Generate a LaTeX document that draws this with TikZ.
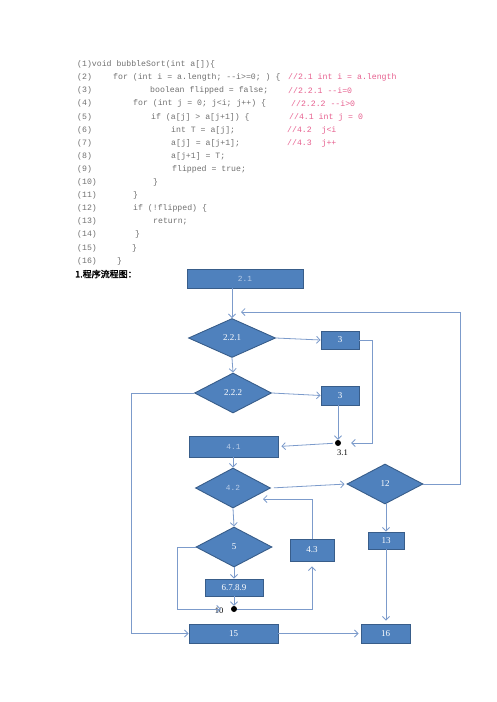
\documentclass[tikz,border=0pt]{standalone}
\usepackage{fontspec}
\setmainfont{Liberation Serif}
\setmonofont{Liberation Mono}
\newfontfamily\cjkb[FakeBold=2]{Noto Sans CJK SC}
\usetikzlibrary{shapes.geometric,arrows.meta}
\definecolor{boxfill}{HTML}{4F81BD}
\definecolor{boxline}{HTML}{385D8A}
\definecolor{conn}{HTML}{7C9BCB}
\definecolor{codegray}{HTML}{707070}
\definecolor{cmt}{HTML}{E6608F}
\definecolor{lightlbl}{HTML}{B9CDE8}
\tikzset{
  box/.style={draw=boxline, fill=boxfill, line width=0.9pt, inner sep=0pt, text=white, font=\fontsize{9}{10}\selectfont},
  dia/.style={diamond, aspect=2, draw=boxline, fill=boxfill, line width=0.9pt, inner sep=0pt, text=white, font=\fontsize{9}{10}\selectfont},
  monolbl/.style={text=lightlbl, font=\ttfamily\fontsize{7.8}{8}\selectfont},
  arr/.style={draw=conn, line width=0.8pt, -{Straight Barb[length=3.5pt,width=7pt]}},
  ln/.style={draw=conn, line width=0.8pt},
  code/.style={anchor=west, inner sep=0pt, text=codegray, font=\ttfamily\fontsize{8.2}{9}\selectfont},
  cmtx/.style={anchor=west, inner sep=0pt, text=cmt, font=\ttfamily\fontsize{8.2}{9}\selectfont},
  dotn/.style={circle, fill=black, inner sep=0pt, minimum size=6pt},
  lbl/.style={inner sep=0pt, font=\fontsize{8.5}{9}\selectfont},
}
\begin{document}
\begin{tikzpicture}[x=1pt,y=-1pt]
\useasboundingbox (0,0) rectangle (496,702);
% code listing
\node[code] (n1) at (77,64.5) {(1)void bubbleSort(int a[])\{};
\node[code] (n2) at (77,77.6) {(2)};
\node[code] (c2) at (113,77.6) {for (int i = a.length; --i>=0; ) \{};
\node[cmtx] (k2) at (288,77.6) {//2.1 int i = a.length};
\node[code] (n3) at (77,90.7) {(3)};
\node[code] (c3) at (150,90.7) {boolean flipped = false;};
\node[cmtx] (k3) at (288,90.7) {//2.2.1 --i=0};
\node[code] (n4) at (77,103.8) {(4)};
\node[code] (c4) at (133,103.8) {for (int j = 0; j<i; j++) \{};
\node[cmtx] (k4) at (291,103.8) {//2.2.2 --i>0};
\node[code] (n5) at (77,116.9) {(5)};
\node[code] (c5) at (151,116.9) {if (a[j] > a[j+1]) \{};
\node[cmtx] (k5) at (289,116.9) {//4.1 int j = 0};
\node[code] (n6) at (77,130) {(6)};
\node[code] (c6) at (171,130) {int T = a[j];};
\node[cmtx] (k6) at (287,130) {//4.2\ \ j<i};
\node[code] (n7) at (77,143.1) {(7)};
\node[code] (c7) at (171,143.1) {a[j] = a[j+1];};
\node[cmtx] (k7) at (287,143.1) {//4.3\ \ j++};
\node[code] (n8) at (77,156.2) {(8)};
\node[code] (c8) at (171,156.2) {a[j+1] = T;};
\node[code] (n9) at (77,169.3) {(9)};
\node[code] (c9) at (172,169.3) {flipped = true;};
\node[code] (n10) at (77,182.4) {(10)};
\node[code] (c10) at (153,182.4) {\}};
\node[code] (n11) at (77,195.5) {(11)};
\node[code] (c11) at (133,195.5) {\}};
\node[code] (n12) at (77,208.6) {(12)};
\node[code] (c12) at (133,208.6) {if (!flipped) \{};
\node[code] (n13) at (77,221.7) {(13)};
\node[code] (c13) at (153,221.7) {return;};
\node[code] (n14) at (77,234.8) {(14)};
\node[code] (c14) at (135,234.8) {\}};
\node[code] (n15) at (77,247.9) {(15)};
\node[code] (c15) at (132,247.9) {\}};
\node[code] (n16) at (77,261) {(16)};
\node[code] (c16) at (117,261) {\}};
\node[anchor=west, inner sep=0pt, font=\cjkb\fontsize{9}{10}\selectfont] (head) at (75,274) {1.程序流程图：};
% flowchart nodes
\node[box, minimum width=116pt, minimum height=19pt, monolbl] (b21) at (245,278.5) {2.1};
\node[dia, minimum width=87pt, minimum height=39pt] (d221) at (232,338) {2.2.1};
\node[box, minimum width=38pt, minimum height=18pt] (b3a) at (340,340) {3};
\node[dia, minimum width=77pt, minimum height=40pt] (d222) at (233,393) {2.2.2};
\node[box, minimum width=38pt, minimum height=19pt] (b3b) at (340,395.5) {3};
\node[dotn] (dot31) at (338,443) {};
\node[lbl, anchor=north west] (l31) at (337,450) {3.1};
\node[box, minimum width=89pt, minimum height=21pt, monolbl] (b41) at (233.5,446.5) {4.1};
\node[dia, minimum width=75pt, minimum height=40pt, monolbl] (d42) at (233,488) {4.2};
\node[dia, minimum width=76pt, minimum height=40pt] (d12) at (385,484) {12};
\node[box, minimum width=36pt, minimum height=17pt] (b13) at (386,540.5) {13};
\node[dia, minimum width=76pt, minimum height=40pt] (d5) at (234,547) {5};
\node[box, minimum width=58pt, minimum height=17pt] (b6789) at (234,587.5) {6.7.8.9};
\node[box, minimum width=44pt, minimum height=22pt] (b43) at (312,550) {4.3};
\node[dotn] (dot10) at (234,609) {};
\node[lbl] (l10) at (219,611) {10};
\node[box, minimum width=89pt, minimum height=19pt] (b15) at (233.5,633.5) {15};
\node[box, minimum width=49pt, minimum height=19pt] (b16) at (385.5,633.5) {16};
\coordinate (loopend) at (241,312);
\coordinate (c43end) at (263,499);
\coordinate (c43turn) at (312,499);
% connectors
\draw[arr] (b21.south -| d221.north) -- (d221.north);
\draw[arr] (d12.east) -- (460,484) -- (460,312) -- (loopend);
\draw[arr] (d221.east) -- (b3a.west);
\draw[arr, shorten >=10pt] (b3a.east) -- (372,340) |- (dot31);
\draw[arr] (d221.south) -- (d222.north);
\draw[arr] (d222.east) -- (b3b.west);
\draw[arr] (b3b.south -| dot31) -- (dot31);
\draw[arr] (d222.west) -- (131,393) |- (b15.west);
\draw[arr, shorten <=2pt, shorten >=3pt] (dot31) -- (b41.east);
\draw[arr] (b41.south -| d42.north) -- (d42.north);
\draw[arr, shorten <=3pt, shorten >=2pt] (d42.east) -- (d12.west);
\draw[arr] (d12.south -| b13.north) -- (b13.north);
\draw[arr, shorten >=3pt] (b13.south) -- (b13.south |- b16.north);
\draw[arr] (d42.south) -- (d5.north);
\draw[arr, shorten >=10pt] (d5.west) -- (177,547) |- (dot10);
\draw[arr] (d5.south) -- (b6789.north);
\draw[arr] (b6789.south) -- (dot10);
\draw[arr, shorten >=5pt] (dot10) -| (b43.south);
\draw[arr] (b43.north) -- (c43turn) -- (c43end);
\draw[arr, shorten >=2pt] (b15.east) -- (b16.west);
\end{tikzpicture}
\end{document}
